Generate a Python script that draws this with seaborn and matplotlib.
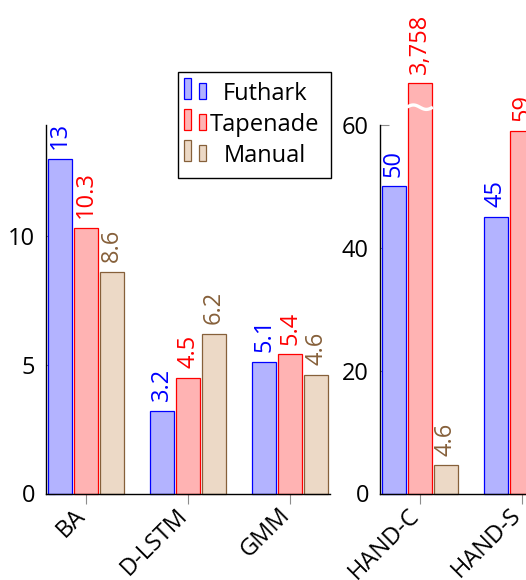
import numpy as np
import pandas as pd
import matplotlib
matplotlib.use("Agg")
import matplotlib.pyplot as plt
from matplotlib.patches import Rectangle
import seaborn as sns

# Speedups of the AD tools on each benchmark
tools = ["Futhark", "Tapenade", "Manual"]

small_benchmarks = ["BA", "D-LSTM", "GMM"]
small_futhark = [13, 3.2, 5.1]
small_tapenade = [10.3, 4.5, 5.4]
small_manual = [8.6, 6.2, 4.6]

large_benchmarks = ["HAND-C", "HAND-S"]
large_futhark = [50, 45]
large_tapenade = [3758, 59]
large_manual = [4.6, np.nan]

small_yticks = [0, 5, 10]
large_yticks = [0, 20, 40, 60]

fill_colors = ["#b3b3ff", "#ffb3b3", "#ecd9c6"]
edge_colors = ["#0000ff", "#ff0000", "#86603a"]

sns.set_theme(style="white")
plt.rcParams["font.family"] = ["Open Sans", "DejaVu Sans"]
plt.rcParams["text.color"] = "black"
FS = 17

W, H = 526, 580
UNIT = 102.2   # pixels between neighbouring benchmark groups
MARGIN = 0.39  # empty space (in groups) at each end of an axis
fig = plt.figure(figsize=(W / 100, H / 100), dpi=100)


def px_box(left, top, width, height):
    return [left / W, 1 - (top + height) / H, width / W, height / H]


def make_frame(benchmarks, fut, tap, man):
    return pd.DataFrame({
        "benchmark": list(benchmarks) * 3,
        "tool": np.repeat(tools, len(benchmarks)),
        "speedup": list(fut) + list(tap) + list(man),
    })


def draw_panel(ax, benchmarks, df, ymax, yticks, cap=None):
    df = df.copy()
    df["height"] = df["speedup"] if cap is None else df["speedup"].clip(upper=cap)
    sns.barplot(data=df, x="benchmark", y="height", hue="tool",
                order=benchmarks, hue_order=tools,
                palette=dict(zip(tools, fill_colors)), saturation=1,
                width=0.765, gap=0.08, errorbar=None, legend=False,
                linewidth=0.9, ax=ax)
    for container, tool, edge in zip(ax.containers, tools, edge_colors):
        sub = df[df["tool"] == tool].set_index("benchmark")
        for bar in container:
            cx = bar.get_x() + bar.get_width() / 2
            idx = int(round(cx))
            value = sub.loc[benchmarks[idx], "speedup"]
            if np.isnan(value):
                continue
            bar.set_edgecolor(edge)
            bar.set_clip_on(False)
            h = bar.get_height()
            ax.annotate(f"{value:,g}", xy=(cx, h), xytext=(0, 7),
                        textcoords="offset points", rotation=90,
                        ha="center", va="bottom", color=edge, fontsize=FS,
                        annotation_clip=False)
            if cap is not None and value > cap:
                # wavy cut marking a truncated bar
                x0 = bar.get_x() - 0.01
                x1 = bar.get_x() + bar.get_width() + 0.01
                t = np.linspace(0, 1, 60)
                yb = cap - 0.065 * ymax
                ax.plot(x0 + (x1 - x0) * t, yb + 0.006 * ymax * np.sin(2 * np.pi * t),
                        color="white", lw=2.4, solid_capstyle="butt",
                        clip_on=False, zorder=5)
    ax.set_xlim(-MARGIN, len(benchmarks) - 1 + MARGIN)
    ax.set_ylim(0, ymax)
    ax.set_yticks(yticks)
    ax.set_xlabel("")
    ax.set_ylabel("")
    for side in ("top", "right"):
        ax.spines[side].set_visible(False)
    for side in ("left", "bottom"):
        ax.spines[side].set_color("black")
        ax.spines[side].set_linewidth(1.0)
    ax.tick_params(axis="y", direction="in", length=6.5, width=0.8,
                   color="0.55", labelcolor="black", labelsize=FS, pad=8,
                   left=True)
    ax.tick_params(axis="x", direction="out", length=7.5, width=0.8,
                   color="0.55", labelcolor="black", labelsize=FS, pad=9,
                   bottom=True)
    for lab in ax.get_xticklabels():
        lab.set_rotation(45)
        lab.set_ha("right")
        lab.set_va("baseline")
        lab.set_rotation_mode("anchor")


def axis_width(n):
    return UNIT * (n - 1 + 2 * MARGIN)


ax_small = fig.add_axes(px_box(46, 125, axis_width(len(small_benchmarks)), 368.5))
ax_large = fig.add_axes(px_box(380, 125, axis_width(len(large_benchmarks)), 368.5))

draw_panel(ax_small, small_benchmarks,
           make_frame(small_benchmarks, small_futhark, small_tapenade, small_manual),
           14.3, small_yticks)
draw_panel(ax_large, large_benchmarks,
           make_frame(large_benchmarks, large_futhark, large_tapenade, large_manual),
           60, large_yticks, cap=66.8)

# Legend box with small bar icons and centered entries
fig.add_artist(Rectangle((178 / W, 1 - 178 / H), 153 / W, 106 / H,
                         transform=fig.transFigure, facecolor="white",
                         edgecolor="black", lw=1.0, zorder=10))
for tool, fc, ec, base in zip(tools, fill_colors, edge_colors, [100, 131, 162]):
    for left, hgt in [(184, 21), (199, 16)]:
        fig.add_artist(Rectangle((left / W, 1 - (base - 1) / H), 7 / W, hgt / H,
                                 transform=fig.transFigure, facecolor=fc,
                                 edgecolor=ec, lw=0.9, zorder=11))
    fig.text(265 / W, 1 - base / H, tool, ha="center", va="baseline",
             fontsize=FS, color="black", zorder=11)

fig.savefig("out.png", dpi=100)
